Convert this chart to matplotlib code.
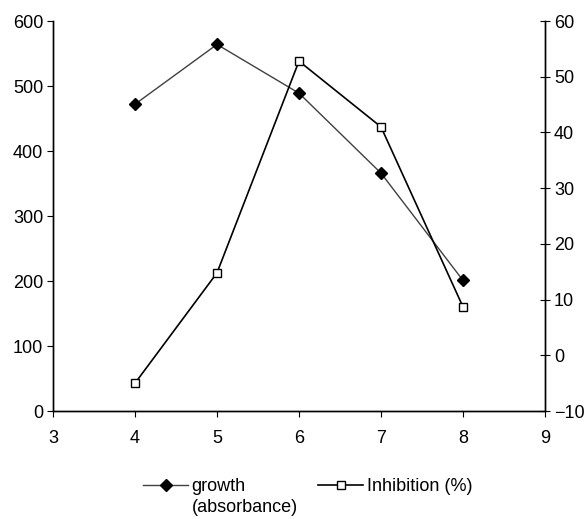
import matplotlib
matplotlib.use("Agg")
import matplotlib.pyplot as plt

plt.rcParams['font.family'] = ['Liberation Sans', 'DejaVu Sans']
plt.rcParams['font.size'] = 13

# data
ph = [4, 5, 6, 7, 8]
growth = [472, 564, 489, 366, 201]
inhibition = [-5.0, 14.8, 52.8, 41.0, 8.7]

fig = plt.figure(figsize=(5.85, 5.19), dpi=100)
ax = fig.add_axes([0.0906, 0.208, 0.841, 0.7515])
ax2 = ax.twinx()

l1, = ax.plot(ph, growth, color='#404040', lw=1.0, marker='D', ms=6,
              mfc='black', mec='black', label='growth')
l2, = ax2.plot(ph, inhibition, color='black', lw=1.2, marker='s', ms=6,
               mfc='white', mec='black', mew=1.0, label='Inhibition (%)')

ax.set_xlim(3, 9)
ax.set_ylim(0, 600)
ax2.set_ylim(-10, 60)
ax.set_xticks(range(3, 10))
ax.set_yticks(range(0, 601, 100))
ax2.set_yticks(range(-10, 61, 10))

for a in (ax, ax2):
    a.spines['top'].set_visible(False)
    for s in a.spines.values():
        s.set_linewidth(1.0)
ax.tick_params(axis='x', direction='out', length=4, pad=10)
ax.tick_params(axis='y', direction='out', length=4, pad=3)
ax2.tick_params(axis='y', direction='inout', length=7, pad=3)

leg = fig.legend([l1, l2], [l1.get_label(), l2.get_label()], loc='center left',
                 bbox_to_anchor=(0.2444, 0.0617), ncol=2, frameon=False,
                 handlelength=2.5, handletextpad=0.2, columnspacing=4.0,
                 borderaxespad=0, borderpad=0)

# second line of the growth label sits under "growth"
fig.canvas.draw()
bb = leg.get_texts()[0].get_window_extent()
fig.text(bb.x0, bb.y0 - 4, '(absorbance)', ha='left', va='top',
         transform=None)

fig.savefig('out.png', dpi=100)
